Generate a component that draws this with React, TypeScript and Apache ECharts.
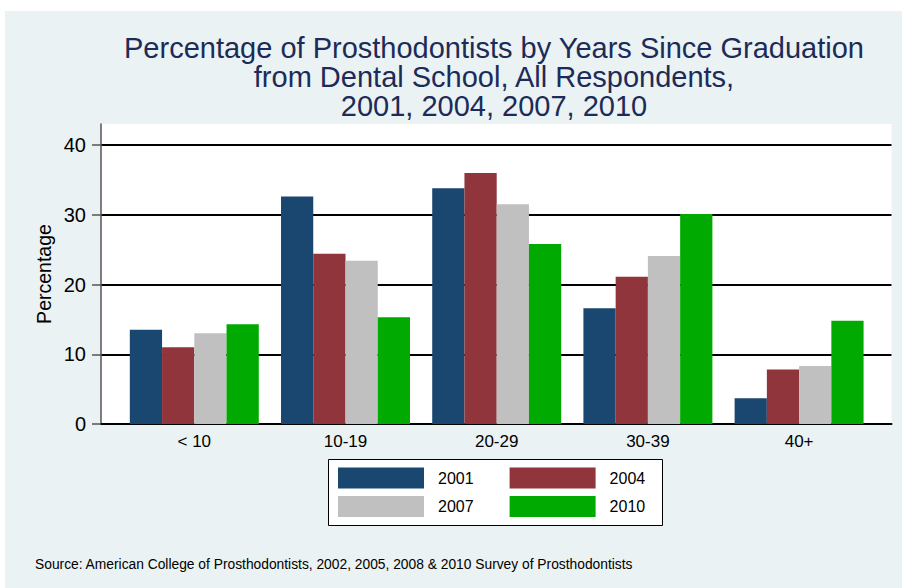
import React, { useEffect, useRef } from "react";
import * as echarts from "echarts";

const categories = ["< 10", "10-19", "20-29", "30-39", "40+"];
const seriesNames = ["2001", "2004", "2007", "2010"];
const values2001 = [13.5, 32.6, 33.8, 16.6, 3.7];
const values2004 = [11.0, 24.4, 36.0, 21.1, 7.8];
const values2007 = [13.0, 23.4, 31.5, 24.1, 8.3];
const values2010 = [14.3, 15.3, 25.8, 30.1, 14.8];
const yTicks = [0, 10, 20, 30, 40];

const titleLines = [
  "Percentage of Prosthodontists by Years Since Graduation",
  "from Dental School, All Respondents,",
  "2001, 2004, 2007, 2010",
];
const sourceText =
  "Source: American College of Prosthodontists, 2002, 2005, 2008 & 2010 Survey of Prosthodontists";

const colors = ["#1a476f", "#90353b", "#c0c0c0", "#00aa00"];
const FONT = "'Liberation Sans', Arial, Helvetica, sans-serif";

export default function App() {
  const ref = useRef<HTMLDivElement>(null);
  useEffect(() => {
    if (!ref.current) return;
    const chart = echarts.init(ref.current, null, { renderer: "svg" });
    const allValues = [values2001, values2004, values2007, values2010];
    const yMax = yTicks[yTicks.length - 1];
    const option: any = {
      animation: false,
      backgroundColor: "#eaf2f3",
      textStyle: { fontFamily: FONT },
      title: {
        text: titleLines.join("\n"),
        left: 494,
        top: 33,
        textAlign: "center",
        padding: 0,
        textStyle: {
          fontFamily: FONT,
          fontSize: 29,
          fontWeight: "normal",
          color: "#1c2b57",
          lineHeight: 29,
        },
      },
      graphic: [
        { type: "rect", shape: { x: 0, y: 0, width: 902, height: 11 }, style: { fill: "#ffffff" }, silent: true },
        { type: "rect", shape: { x: 0, y: 0, width: 5, height: 588 }, style: { fill: "#ffffff" }, silent: true },
        {
          type: "rect",
          shape: { x: 328.5, y: 459.5, width: 334, height: 66 },
          style: { fill: "#ffffff", stroke: "#000000", lineWidth: 1 },
          silent: true,
        },
        {
          type: "text",
          left: 35,
          top: 557,
          style: { text: sourceText, font: `13.8px ${FONT}`, fill: "#000000" },
          silent: true,
        },
      ],
      legend: [
        {
          data: seriesNames.slice(0, 2),
          left: 338,
          top: 467.5,
          padding: 0,
          itemWidth: 86,
          itemHeight: 21,
          itemGap: 36,
          icon: "rect",
          textStyle: { fontFamily: FONT, fontSize: 16, color: "#000", padding: [0, 0, 0, 9] },
        },
        {
          data: seriesNames.slice(2, 4),
          left: 338,
          top: 496,
          padding: 0,
          itemWidth: 86,
          itemHeight: 21,
          itemGap: 36,
          icon: "rect",
          textStyle: { fontFamily: FONT, fontSize: 16, color: "#000", padding: [0, 0, 0, 9] },
        },
      ],
      grid: [
        { left: 101, top: 124, width: 790.5, height: 300, show: true, backgroundColor: "#ffffff", borderWidth: 0 },
        { left: 101, top: 145, width: 790.5, height: 279, show: false },
        { left: 118.7, top: 145, width: 756, height: 279, show: false },
      ],
      xAxis: [
        { gridIndex: 0, type: "value", min: 0, max: 1, show: false },
        {
          gridIndex: 1,
          type: "value",
          min: 0,
          max: 1,
          axisLine: { show: true, lineStyle: { color: "#000", width: 2 } },
          axisTick: { show: false },
          axisLabel: { show: false },
          splitLine: { show: false },
        },
        {
          gridIndex: 2,
          type: "category",
          data: categories,
          axisLine: { show: false },
          axisTick: { show: false },
          axisLabel: { fontFamily: FONT, fontSize: 17, color: "#000", margin: 9 },
          splitLine: { show: false },
        },
      ],
      yAxis: [
        {
          gridIndex: 0,
          type: "value",
          min: 0,
          max: 43,
          name: "Percentage",
          nameLocation: "middle",
          nameGap: 47,
          nameTextStyle: { fontFamily: FONT, fontSize: 19.5, color: "#000" },
          axisLine: { show: true, lineStyle: { color: "#555", width: 1.5 } },
          axisTick: { show: false },
          axisLabel: { show: false },
          splitLine: { show: false },
        },
        {
          gridIndex: 1,
          type: "value",
          min: 0,
          max: yMax,
          interval: 10,
          axisLine: { show: false },
          axisTick: { show: true, inside: false, length: 9, lineStyle: { color: "#555", width: 1.5 } },
          axisLabel: { fontFamily: FONT, fontSize: 20, color: "#000", margin: 15 },
          splitLine: { show: true, lineStyle: { color: "#000", width: 2 } },
        },
        { gridIndex: 2, type: "value", min: 0, max: yMax, show: false },
      ],
      series: seriesNames.map((name, i) => ({
        name,
        type: "bar",
        xAxisIndex: 2,
        yAxisIndex: 2,
        data: allValues[i],
        barGap: "0%",
        barCategoryGap: "14.7%",
        itemStyle: { color: colors[i] },
      })),
    };
    chart.setOption(option);
    return () => chart.dispose();
  }, []);
  return (
    <div
      ref={ref}
      style={{ position: "fixed", left: 0, top: 0, width: 902, height: 588 }}
    />
  );
}
